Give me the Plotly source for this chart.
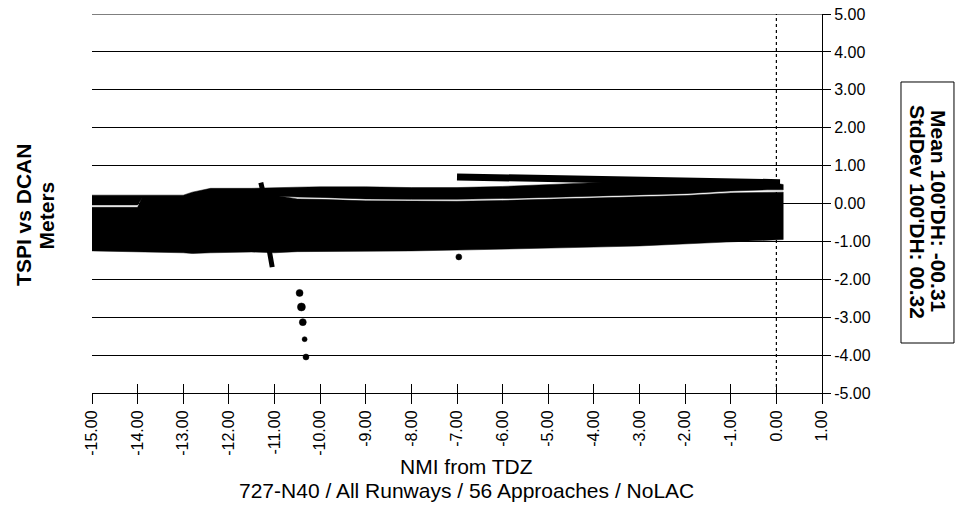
import plotly.graph_objects as go

# ---------------- data ----------------
band_x = [-15.0, -14.0, -13.9, -13.0, -12.8, -12.4, -11.5, -11.0, -10.5, -10.0,
          -9.0, -8.0, -7.0, -6.0, -5.0, -4.0, -3.0, -2.0, -1.0, -0.2, 0.15]

strip_top = [0.22, 0.22, 0.22, 0.22, 0.30, 0.40, 0.40, 0.42, 0.43, 0.44,
             0.44, 0.42, 0.42, 0.45, 0.50, 0.55, 0.58, 0.60, 0.60, 0.58, 0.50]
strip_bottom = [-0.04, -0.04, 0.15, 0.15, 0.17, 0.18, 0.20, 0.20, 0.17, 0.16,
                0.12, 0.11, 0.11, 0.13, 0.16, 0.18, 0.22, 0.26, 0.33, 0.36, 0.36]
body_top = [-0.10, -0.10, 0.17, 0.17, 0.19, 0.20, 0.22, 0.22, 0.12, 0.11,
            0.07, 0.06, 0.06, 0.08, 0.11, 0.13, 0.17, 0.21, 0.28, 0.30, 0.30]
body_bottom = [-1.25, -1.27, -1.27, -1.30, -1.32, -1.30, -1.28, -1.30, -1.27, -1.25,
               -1.25, -1.25, -1.23, -1.20, -1.18, -1.15, -1.12, -1.07, -1.00, -0.97, -0.95]

upper_x = [-7.0, -6.0, -5.0, -4.0, -3.0, -2.0, -1.0, 0.0, 0.08]
upper_y = [0.70, 0.68, 0.66, 0.64, 0.62, 0.60, 0.58, 0.56, 0.55]

spike_x = [-11.30, -11.25, -11.15, -11.05]
spike_y = [0.55, 0.30, -1.00, -1.68]

outlier_x = [-10.45, -10.41, -10.38, -10.34, -10.31, -6.96]
outlier_y = [-2.36, -2.73, -3.13, -3.58, -4.05, -1.41]
outlier_size = [7, 8, 7, 5, 6, 6]

x_tick_values = [-15, -14, -13, -12, -11, -10, -9, -8, -7, -6, -5, -4, -3, -2, -1, 0, 1]
x_tick_labels = ["-15.00", "-14.00", "-13.00", "-12.00", "-11.00", "-10.00", "-9.00",
                 "-8.00", "-7.00", "-6.00", "-5.00", "-4.00", "-3.00", "-2.00",
                 "-1.00", "0.00", "1.00"]
y_tick_values = [5, 4, 3, 2, 1, 0, -1, -2, -3, -4, -5]
y_tick_labels = ["5.00", "4.00", "3.00", "2.00", "1.00", "0.00", "-1.00", "-2.00",
                 "-3.00", "-4.00", "-5.00"]

x_title = "NMI from TDZ"
subtitle = "727-N40 / All Runways / 56 Approaches / NoLAC"
y_title_lines = ["TSPI vs DCAN", "Meters"]
stats_lines = ["Mean 100'DH: -00.31", "StdDev 100'DH: 00.32"]

FONT = "Liberation Sans, Arial, Helvetica, sans-serif"

fig = go.Figure()

# main body of the point cloud
fig.add_trace(go.Scatter(
    x=band_x + band_x[::-1], y=body_top + body_bottom[::-1],
    mode="lines", fill="toself", fillcolor="black",
    line=dict(color="black", width=0.5), hoverinfo="skip", showlegend=False))

# upper strip of the point cloud
fig.add_trace(go.Scatter(
    x=band_x + band_x[::-1], y=strip_top + strip_bottom[::-1],
    mode="lines", fill="toself", fillcolor="black",
    line=dict(color="black", width=0.5), hoverinfo="skip", showlegend=False))

# upper thin trace
fig.add_trace(go.Scatter(
    x=upper_x, y=upper_y, mode="lines",
    line=dict(color="black", width=7), hoverinfo="skip", showlegend=False))

# spike near -11
fig.add_trace(go.Scatter(
    x=spike_x, y=spike_y, mode="lines",
    line=dict(color="black", width=5), hoverinfo="skip", showlegend=False))

# isolated points
fig.add_trace(go.Scatter(
    x=outlier_x, y=outlier_y, mode="markers",
    marker=dict(color="black", size=outlier_size, opacity=1,
                line=dict(color="black", width=0.5)),
    opacity=1, hoverinfo="skip", showlegend=False))

# dummy invisible trace so the overlay axis (inside tick halves) is drawn
fig.add_trace(go.Scatter(x=[-15], y=[-5], xaxis="x2", mode="markers",
                         marker=dict(opacity=0), hoverinfo="skip", showlegend=False))

# dotted reference line at 0 NMI
fig.add_shape(type="line", xref="x", yref="y", x0=0, x1=0, y0=-5, y1=5,
              line=dict(color="black", width=1.2, dash="3px,3px"), layer="above")
# top grid line (plotly drops the grid line at the range edge)
fig.add_shape(type="line", xref="x", yref="y", x0=-15, x1=1, y0=5, y1=5,
              line=dict(color="black", width=1), layer="above")
# stats box
fig.add_shape(type="rect", xref="paper", yref="paper",
              x0=1.1082, x1=1.1808, y0=0.1319, y1=0.8206,
              line=dict(color="black", width=1), fillcolor="white", layer="below")

annotations = [
    dict(text=x_title, xref="paper", yref="paper", x=0.513, y=-0.195,
         xanchor="center", yanchor="middle", showarrow=False, font=dict(size=21)),
    dict(text=subtitle, xref="paper", yref="paper", x=0.513, y=-0.258,
         xanchor="center", yanchor="middle", showarrow=False, font=dict(size=21)),
    dict(text="<b>" + y_title_lines[0] + "</b>", xref="paper", yref="paper",
         x=-0.0932, y=0.4697, xanchor="center", yanchor="middle", showarrow=False,
         textangle=-90, font=dict(size=21)),
    dict(text="<b>" + y_title_lines[1] + "</b>", xref="paper", yref="paper",
         x=-0.061, y=0.4697, xanchor="center", yanchor="middle", showarrow=False,
         textangle=-90, font=dict(size=21)),
    dict(text="<b>" + stats_lines[0] + "</b>", xref="paper", yref="paper",
         x=1.1589, y=0.4776, xanchor="center", yanchor="middle", showarrow=False,
         textangle=90, font=dict(size=21)),
    dict(text="<b>" + stats_lines[1] + "</b>", xref="paper", yref="paper",
         x=1.1301, y=0.4776, xanchor="center", yanchor="middle", showarrow=False,
         textangle=90, font=dict(size=21)),
]

fig.update_layout(
    width=956, height=518,
    margin=dict(l=92, r=134, t=14, b=125),
    paper_bgcolor="white", plot_bgcolor="white",
    font=dict(family=FONT, color="black", size=16),
    hovermode=False,
    xaxis=dict(
        range=[-15, 1], tickvals=x_tick_values, ticktext=x_tick_labels,
        tickangle=-90, ticks="outside", ticklen=10, tickcolor="black", tickwidth=1,
        showline=True, linecolor="black", linewidth=1, automargin=False,
        showgrid=False, zeroline=False, tickfont=dict(size=16),
    ),
    xaxis2=dict(
        range=[-15, 1], overlaying="x", anchor="y", side="bottom",
        tickvals=x_tick_values, ticks="inside", ticklen=9, tickcolor="black",
        showticklabels=False, showgrid=False, zeroline=False, showline=False,
        automargin=False,
    ),
    yaxis=dict(
        range=[-5, 5], side="right", tickvals=y_tick_values, ticktext=y_tick_labels,
        ticks="outside", ticklen=8, tickcolor="black", automargin=False,
        showline=True, linecolor="black", linewidth=1,
        showgrid=True, gridcolor="black", gridwidth=1,
        zeroline=False, tickfont=dict(size=16),
    ),
    annotations=annotations,
)

fig.write_html(
    "out.html",
    config={"displayModeBar": False, "staticPlot": True},
    post_script="document.body.style.margin='0px';document.body.style.overflow='hidden';",
)
